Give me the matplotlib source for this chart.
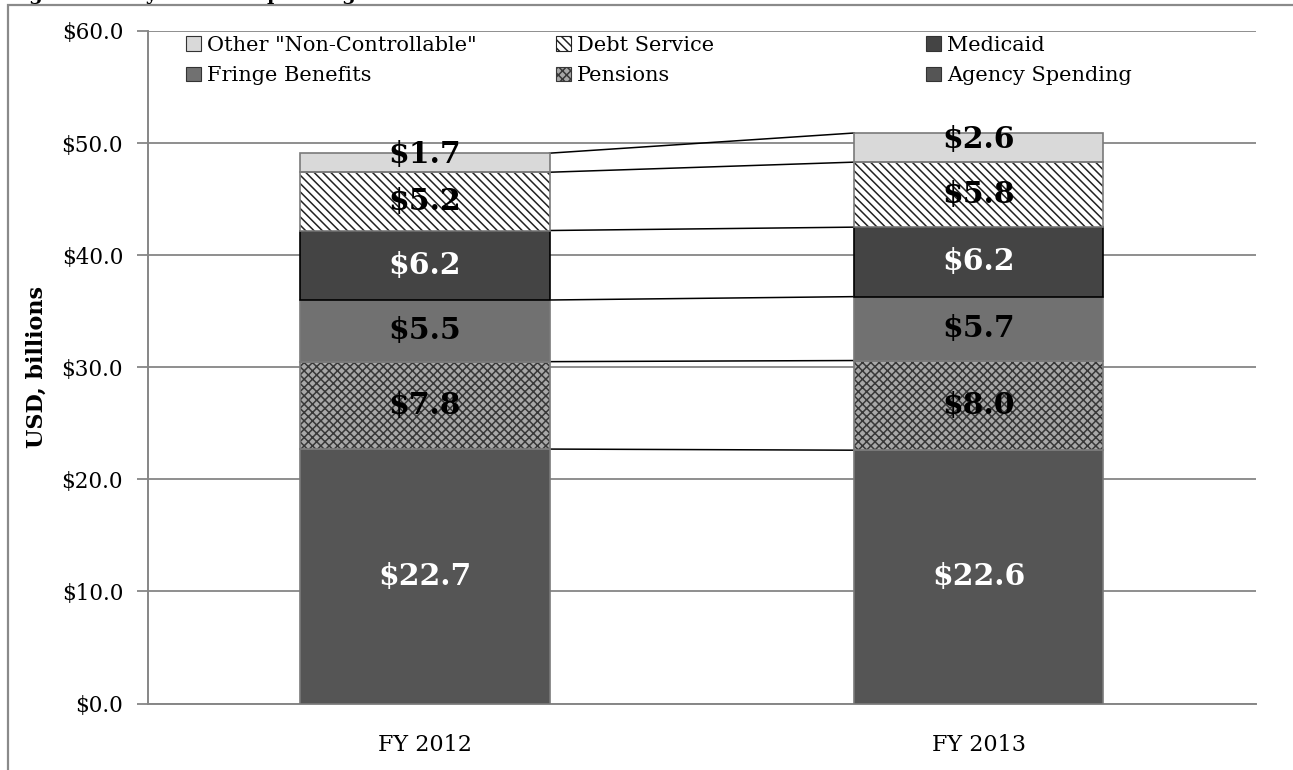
import matplotlib.pyplot as plt
from matplotlib.patches import Patch, Rectangle

plt.rcParams["font.family"] = ["DejaVu Serif"]
plt.rcParams["hatch.linewidth"] = 1.1

years = ["FY 2012", "FY 2013"]
series = ["Agency Spending", "Pensions", "Fringe Benefits", "Medicaid",
          "Debt Service", 'Other "Non-Controllable"']
agency = [22.7, 22.6]
pensions = [7.8, 8.0]
fringe = [5.5, 5.7]
medicaid = [6.2, 6.2]
debt = [5.2, 5.8]
other = [1.7, 2.6]
values = [agency, pensions, fringe, medicaid, debt, other]

# fill, hatch, outline, label colour
styles = {
    "Agency Spending": dict(fc="#555555", hatch=None, ec="#7a7a7a", tc="white"),
    "Pensions": dict(fc="#a8a8a8", hatch="xxxx", hc="#383838", ec="#7a7a7a", tc="black"),
    "Fringe Benefits": dict(fc="#717171", hatch=None, ec="#7a7a7a", tc="black"),
    "Medicaid": dict(fc="#444444", hatch=None, ec="black", tc="white"),
    "Debt Service": dict(fc="white", hatch="\\\\\\\\", hc="#222222", ec="#7a7a7a", tc="black"),
    'Other "Non-Controllable"': dict(fc="#d9d9d9", hatch=None, ec="#7a7a7a", tc="black"),
}

fig = plt.figure(figsize=(12.93, 7.70), dpi=100)
ax = fig.add_axes([148 / 1293, 66.5 / 770, 1107.6 / 1293, 672.5 / 770])

x = [0, 1]
width = 0.45
bottoms = [0.0, 0.0]
tops = []
for name, vals in zip(series, values):
    st = styles[name]
    if st["hatch"]:
        ax.bar(x, vals, width, bottom=bottoms, color=st["fc"], hatch=st["hatch"],
               edgecolor=st["hc"], linewidth=0, zorder=3)
        ax.bar(x, vals, width, bottom=bottoms, fill=False, edgecolor=st["ec"],
               linewidth=1.2, zorder=4)
    else:
        ax.bar(x, vals, width, bottom=bottoms, color=st["fc"], edgecolor=st["ec"],
               linewidth=1.2, zorder=3)
    for i in range(2):
        mid = bottoms[i] + vals[i] / 2
        dy = 6 if name.startswith("Other") else 0
        ax.annotate(f"${vals[i]:.1f}", (x[i], mid), xytext=(0, dy),
                    textcoords="offset points", ha="center", va="center",
                    fontsize=21.5, fontweight="bold", color=st["tc"], zorder=6)
    bottoms = [b + v for b, v in zip(bottoms, vals)]
    tops.append(list(bottoms))

# series lines joining the segment tops of the two bars
for t in tops:
    ax.plot([x[0] + width / 2, x[1] - width / 2], t, color="black",
            linewidth=1.1, zorder=2)

ax.set_xlim(-0.5, 1.5)
ax.set_ylim(0, 60)
ax.set_yticks(range(0, 61, 10))
ax.yaxis.set_major_formatter(lambda v, p: f"${v:.1f}")
ax.set_xticks(x)
ax.set_xticklabels(years)
ax.tick_params(axis="y", labelsize=15.5, length=8, width=1.3, color="#868686",
               direction="out", pad=10)
ax.tick_params(axis="x", labelsize=16, length=0, pad=22)
ax.grid(axis="y", color="#868686", linewidth=1.3, zorder=0)
for s in ["top", "right"]:
    ax.spines[s].set_visible(False)
for s in ["left", "bottom"]:
    ax.spines[s].set_color("#868686")
    ax.spines[s].set_linewidth(1.4)
ax.set_ylabel("USD, billions", fontsize=16, fontweight="bold", labelpad=10)


def handle(name):
    st = styles[name]
    return Patch(facecolor=st["fc"], hatch=st["hatch"],
                 edgecolor=st.get("hc", "#333333") if st["hatch"] else "#333333",
                 linewidth=0.8)


legend_cols = [
    ('Other "Non-Controllable"', "Fringe Benefits"),
    ("Debt Service", "Pensions"),
    ("Medicaid", "Agency Spending"),
]
col_x = [186, 556, 926]
for cx, names in zip(col_x, legend_cols):
    leg = fig.legend([handle(n) for n in names], list(names), loc="upper left",
                     bbox_to_anchor=(cx / 1293, 1 - 36 / 770), frameon=False,
                     fontsize=15, handlelength=0.7, handleheight=0.7,
                     handletextpad=0.3, labelspacing=0.55, borderpad=0,
                     borderaxespad=0)

# outer frame and clipped heading above it
fig.add_artist(Rectangle((8 / 1293, -0.1), 1.2, 1 - 5 / 770 + 0.1,
                         transform=fig.transFigure, fill=False,
                         edgecolor="#8a8a8a", linewidth=1.6))
fig.text(8 / 1293, 1 - 0.5 / 770, "Figure 1: City-Funded Spending",
         fontsize=14, fontweight="bold", va="baseline", ha="left")

fig.savefig("out.png", dpi=100)
